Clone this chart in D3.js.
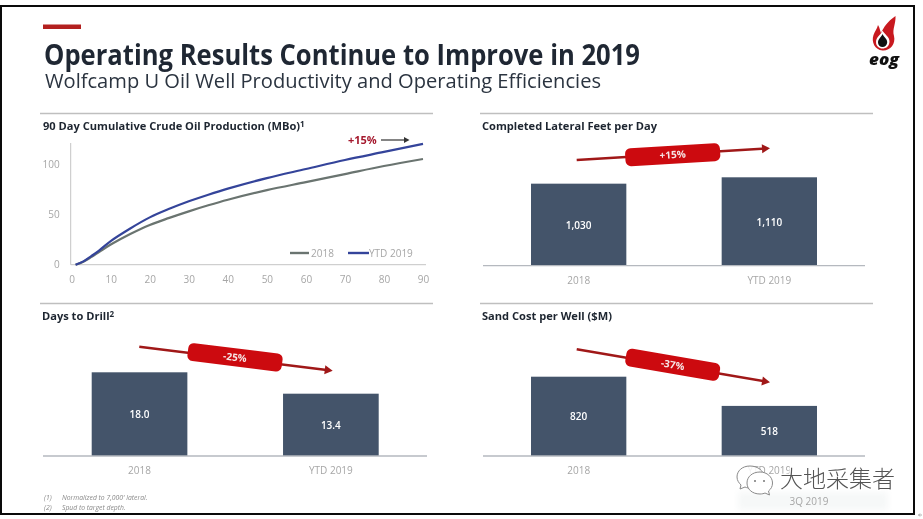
<!DOCTYPE html>
<html><head><meta charset="utf-8">
<script src="https://cdn.jsdelivr.net/npm/d3@7/dist/d3.min.js"></script>
<style>
html,body{margin:0;padding:0;background:#fff}
svg{display:block;filter:blur(0.35px)}
text{font-family:"Open Sans",sans-serif}
</style></head><body>
<svg id="c" width="923" height="519"></svg>
<script>
const days = [1,3,5,7,10,15,20,25,30,35,40,50,60,70,80,90];
const series2018 = [0,3,7.5,12.5,20,30.5,39.5,46.5,53,59,64.5,74,82,90,98,105];
const seriesYTD2019 = [0,3.3,8.5,14,23.5,36,47,55.5,63,69.5,75.5,86,95,104,112,120];
const barCategories = ["2018","YTD 2019"];
const lateralFeet = [1030,1110];
const daysToDrill = [18.0,13.4];
const sandCost = [820,518];
const lateralLabels = ["1,030","1,110"];
const drillLabels = ["18.0","13.4"];
const sandLabels = ["820","518"];
const xTicks = [0,10,20,30,40,50,60,70,80,90];
const yTicks = [0,50,100];
const changeLabels = ["+15%","-25%","-37%"];

const svg = d3.select("#c");
const NAVY="#44546a", GREY="#a6a6a6", RULE="#bfbfbf", INK="#1f2733", RED="#c00000", DARKRED="#a01818";

const defs = svg.append("defs");
const glow = defs.append("filter").attr("id","halo").attr("x","-20%").attr("y","-40%").attr("width","140%").attr("height","180%");
glow.append("feGaussianBlur").attr("stdDeviation",3);

svg.append("rect").attr("x",0).attr("y",0).attr("width",923).attr("height",519).attr("fill","#fff");

// Header
svg.append("rect").attr("x",43).attr("y",24.5).attr("width",38).attr("height",4.5).attr("fill","#b3201f");
svg.append("text").attr("x",44).attr("y",65).attr("font-size",28.5).attr("font-weight",700).attr("fill",INK)
  .attr("textLength",596).attr("lengthAdjust","spacingAndGlyphs").text("Operating Results Continue to Improve in 2019");
svg.append("text").attr("x",45).attr("y",87.5).attr("font-size",20).attr("fill","#2b3440")
  .attr("textLength",556).attr("lengthAdjust","spacingAndGlyphs").text("Wolfcamp U Oil Well Productivity and Operating Efficiencies");

// Logo
const logo = svg.append("g");
logo.append("path").attr("fill","#c8191f")
  .attr("d","M895.5,16 C896,24 892,29 894,36 C896,44 890,51 882.5,50.5 C875,50 871,42 873.5,35 C875,31 877,29 878,25 C880,28 880,31 881,33 C884,27 887,22 895.5,16 Z");
logo.append("path").attr("fill","#fff")
  .attr("d","M882.5,30.5 C884,34 890,37 889.5,42 C889,46.5 886,48.5 882.5,48.5 C879,48.5 876,46 876,42 C876,37 881,35 882.5,30.5 Z");
logo.append("path").attr("fill","#111")
  .attr("d","M882.5,34 C883.5,37 887.5,39 887.2,42.5 C887,45 885,47 882.5,47 C880,47 878,45 878,42.5 C878,39 881.5,37 882.5,34 Z");
svg.append("text").attr("x",884).attr("y",65).attr("text-anchor","middle").attr("font-size",16).attr("font-weight",800).attr("font-style","italic").attr("fill","#111").attr("textLength",30).attr("lengthAdjust","spacingAndGlyphs").text("eog");

// Section rules and titles
[[40,433,113.5],[480,873,113.5],[40,433,303.5],[480,873,303.5]].forEach(r=>{
  svg.append("line").attr("x1",r[0]).attr("x2",r[1]).attr("y1",r[2]).attr("y2",r[2]).attr("stroke",RULE).attr("stroke-width",1.5);
});
function panelTitle(x,y,t,sup){
  const el = svg.append("text").attr("x",x).attr("y",y).attr("font-size",11.1).attr("font-weight",700).attr("fill","#1d2530");
  el.append("tspan").text(t);
  if(sup){ el.append("tspan").attr("dy",-3.5).attr("font-size",8).text(sup); }
}
panelTitle(43,130,"90 Day Cumulative Crude Oil Production (MBo)","1");
panelTitle(482,130,"Completed Lateral Feet per Day");
panelTitle(42,320,"Days to Drill","2");
panelTitle(482,320,"Sand Cost per Well ($M)");

// Line chart
const x = d3.scaleLinear().domain([0,90]).range([71.7,423]);
const y = d3.scaleLinear().domain([0,100]).range([264.7,164]);
const axisFont = 10;
const xAxis = svg.append("g").attr("transform","translate(0,264.7)")
  .call(d3.axisBottom(x).tickValues(xTicks).tickSize(0).tickPadding(11));
xAxis.select(".domain").remove();
const yAxis = svg.append("g").attr("transform","translate(70.7,0)")
  .call(d3.axisLeft(y).tickValues(yTicks).tickSize(0).tickPadding(11));
yAxis.select(".domain").remove();
[xAxis,yAxis].forEach(a=>a.selectAll("text").attr("font-size",axisFont).attr("font-family",'"Open Sans",sans-serif').attr("fill",GREY));
svg.append("line").attr("x1",70.7).attr("x2",70.7).attr("y1",143).attr("y2",264.7).attr("stroke","#c4c4c4");
svg.append("line").attr("x1",70.7).attr("x2",426).attr("y1",264.7).attr("y2",264.7).attr("stroke","#c4c4c4");
const line = d3.line().x((d,i)=>x(days[i])).y(d=>y(d)).curve(d3.curveCatmullRom.alpha(0.5));
svg.append("path").datum(series2018).attr("d",line).attr("fill","none").attr("stroke","#6a7470").attr("stroke-width",2.2);
svg.append("path").datum(seriesYTD2019).attr("d",line).attr("fill","none").attr("stroke","#34449a").attr("stroke-width",2.2);

// Legend
svg.append("line").attr("x1",290).attr("x2",309).attr("y1",253).attr("y2",253).attr("stroke","#6a7470").attr("stroke-width",2.4);
svg.append("text").attr("x",311).attr("y",257).attr("font-size",10).attr("fill",GREY).text("2018");
svg.append("line").attr("x1",348).attr("x2",369).attr("y1",253).attr("y2",253).attr("stroke","#34449a").attr("stroke-width",2.4);
svg.append("text").attr("x",369).attr("y",257).attr("font-size",10).attr("fill",GREY).text("YTD 2019");

// +15% note
svg.append("text").attr("x",348).attr("y",144).attr("font-size",11).attr("font-weight",700).attr("fill","#a5192e").text(changeLabels[0]);
svg.append("line").attr("x1",381).attr("x2",405).attr("y1",140).attr("y2",140).attr("stroke","#333").attr("stroke-width",1.2);
svg.append("path").attr("d","M404,137 L409.5,140 L404,143 Z").attr("fill","#333");

// Bars
function barPanel(o){
  const xb = d3.scaleBand().domain(barCategories).range(o.xr).paddingInner(0.5).paddingOuter(0);
  const yb = d3.scaleLinear().domain([0,o.maxV]).range([o.base,o.base-o.maxH]);
  const g = svg.append("g");
  g.selectAll("rect").data(o.values).join("rect")
    .attr("x",(d,i)=>xb(barCategories[i])).attr("width",xb.bandwidth())
    .attr("y",d=>yb(d)).attr("height",d=>o.base-yb(d)).attr("fill",NAVY);
  g.selectAll("text.v").data(o.values).join("text").attr("class","v")
    .attr("x",(d,i)=>xb(barCategories[i])+xb.bandwidth()/2)
    .attr("y",d=>(yb(d)+o.base)/2+4).attr("text-anchor","middle")
    .attr("font-size",10).attr("font-weight",600).attr("fill","#fff")
    .text((d,i)=>o.labels[i]);
  const ax = g.append("g").attr("transform",`translate(0,${o.base})`)
    .call(d3.axisBottom(xb).tickSize(0).tickPadding(11));
  ax.select(".domain").remove();
  ax.selectAll("text").attr("font-size",10).attr("font-family",'"Open Sans",sans-serif').attr("fill",GREY);
  g.append("line").attr("x1",o.ax[0]).attr("x2",o.ax[1]).attr("y1",o.base).attr("y2",o.base).attr("stroke","#b5b9bf").attr("stroke-width",1.3);
}
barPanel({values:lateralFeet,labels:lateralLabels,xr:[531,817],base:265.7,maxV:1110,maxH:88.4,ax:[483,865]});
barPanel({values:daysToDrill,labels:drillLabels,xr:[91.7,378.7],base:456,maxV:18,maxH:83.7,ax:[43,427]});
barPanel({values:sandCost,labels:sandLabels,xr:[531,817],base:456,maxV:820,maxH:79.3,ax:[483,865]});

// Trend arrows
function trend(x1,y1,x2,y2,cx,cy,label){
  const ang = Math.atan2(y2-y1,x2-x1)*180/Math.PI;
  const g = svg.append("g");
  g.append("line").attr("x1",x1).attr("y1",y1).attr("x2",x2-4*Math.cos(ang*Math.PI/180)).attr("y2",y2-4*Math.sin(ang*Math.PI/180))
    .attr("stroke",DARKRED).attr("stroke-width",2.5);
  g.append("path").attr("transform",`translate(${x2},${y2}) rotate(${ang})`).attr("d","M-8,-4.5 L0,0 L-8,4.5 Z").attr("fill",DARKRED);
  const p = g.append("g").attr("transform",`translate(${cx},${cy}) rotate(${ang})`);
  p.append("rect").attr("x",-47.5).attr("y",-9).attr("width",95).attr("height",18).attr("rx",5.5).attr("fill","#cc0a0f");
  p.append("text").attr("y",3.5).attr("text-anchor","middle").attr("font-size",10).attr("font-weight",700).attr("fill","#f6e6e6").text(label);
}
trend(576.7,160,770,148.3,672.7,154.7,changeLabels[0]);
trend(139.3,346.7,332.7,370.7,235,357.3,changeLabels[1]);
trend(576.7,349.3,770,382.3,672.7,364.7,changeLabels[2]);

// Footnotes
[["(1)","Normalized to 7,000' lateral.",500],["(2)","Spud to target depth.",509.5]].forEach(f=>{
  svg.append("text").attr("x",44).attr("y",f[2]).attr("font-size",6.8).attr("font-style","italic").attr("fill","#8a8a8a").text(f[0]);
  svg.append("text").attr("x",62).attr("y",f[2]).attr("font-size",6.8).attr("font-style","italic").attr("fill","#8a8a8a").text(f[1]);
});

// Date tag and watermark
svg.append("rect").attr("x",738).attr("y",492).attr("width",150).attr("height",18).attr("fill","#f6f8f8").attr("filter","url(#halo)");
svg.append("text").attr("x",809).attr("y",505).attr("text-anchor","middle").attr("font-size",10).attr("fill",GREY).text("3Q 2019");
const wm = svg.append("g");
wm.append("path").attr("fill","#fff").attr("fill-opacity",0.85).attr("stroke","#8a8a8a").attr("stroke-width",1)
  .attr("d","M750,466 C742,466 737,471 737,477 C737,480.5 739,483 741,485 L740,489 L745,487 C747,488 749,488 751,488 C760,488 764,482 764,477 C764,471 758,466 750,466 Z");
wm.append("path").attr("fill","#fff").attr("stroke","#8a8a8a").attr("stroke-width",1)
  .attr("d","M760,472 C752,472 747,477 747,483 C747,489 752,494 760,494 C762,494 764,493.5 765,493 L769.5,495 L768.5,491 C771,489 772.5,486.5 772.5,483 C772.5,477 767,472 760,472 Z");
[[755,481],[764,481]].forEach(p=>wm.append("circle").attr("cx",p[0]).attr("cy",p[1]).attr("r",1).attr("fill","#777"));
wm.append("text").attr("x",780).attr("y",487).attr("font-size",23)
  .attr("style",'font-family:"Noto Sans CJK SC",sans-serif;font-weight:300;paint-order:stroke;stroke:#fff;stroke-width:2.5px')
  .attr("fill","#555").text("大地采集者");

// Slide frame
svg.append("rect").attr("x",1).attr("y",6).attr("width",913).attr("height",508).attr("fill","none").attr("stroke","#0a0a0a").attr("stroke-width",2);
svg.append("path").attr("d","M918.5,515 L922,515 M920,513.5 L918.5,515 L920,516.5").attr("fill","none").attr("stroke","#999").attr("stroke-width",0.8);
</script>
</body></html>
